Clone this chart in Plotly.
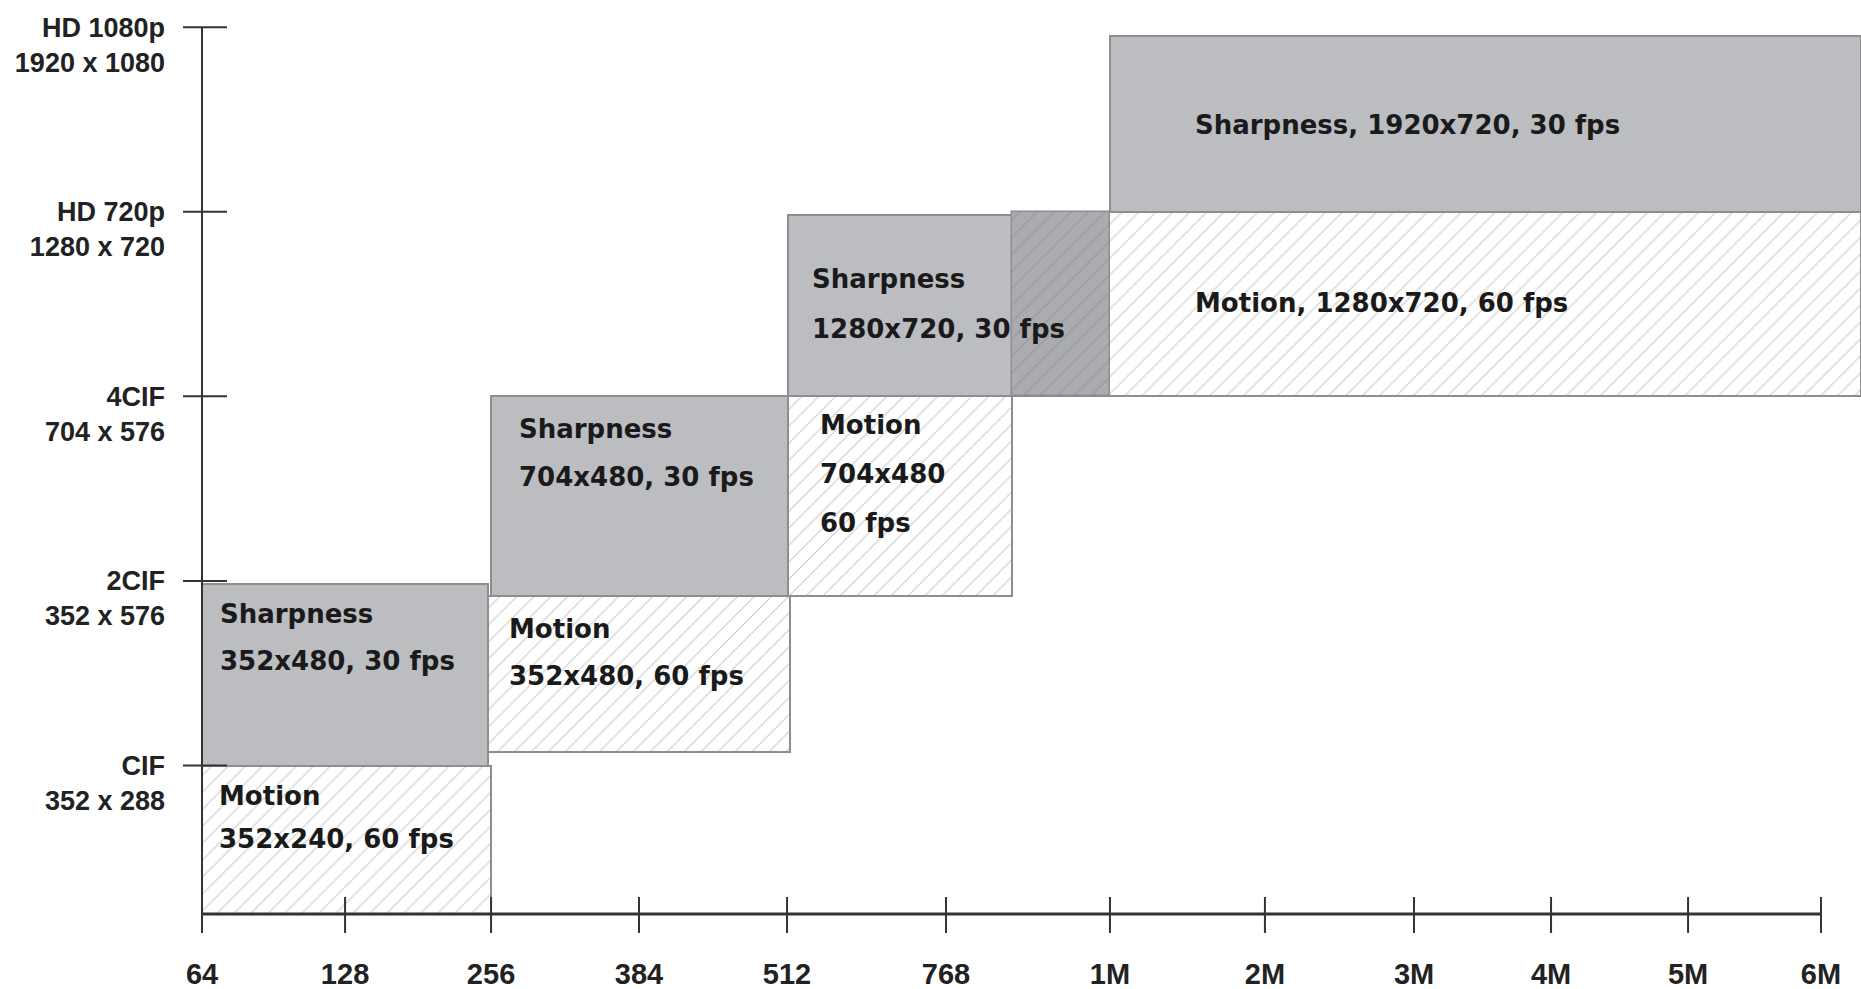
import plotly.graph_objects as go

# ---------------- data ----------------
bitrate_labels = ["64", "128", "256", "384", "512", "768", "1M", "2M", "3M", "4M", "5M", "6M"]
bitrate_pos = [0, 0.972, 1.964, 2.969, 3.975, 5.055, 6.169, 7.222, 8.235, 9.166, 10.097, 11.0]

res_levels = [1, 2, 3, 4, 5]
res_names = ["CIF", "2CIF", "4CIF", "HD 720p", "HD 1080p"]
res_sizes = ["352 x 288", "352 x 576", "704 x 576", "1280 x 720", "1920 x 1080"]

block_kind = ["Motion", "Sharpness", "Motion", "Sharpness", "Motion",
              "Sharpness", "Overlap", "Motion", "Sharpness"]
block_x0 = [0.0, 0.0, 1.943, 1.964, 3.981, 3.981, 5.503, 5.503, 6.169]
block_x1 = [1.964, 1.943, 3.995, 3.981, 5.503, 5.503, 6.169, 11.272, 11.272]
block_y0 = [0.196, 1.0, 1.074, 1.919, 1.919, 3.0, 3.0, 3.0, 4.0]
block_y1 = [1.0, 1.985, 1.919, 3.0, 3.0, 3.983, 4.0, 4.0, 4.953]
block_text = [
    ["Motion", "352x240, 60 fps"],
    ["Sharpness", "352x480, 30 fps"],
    ["Motion", "352x480, 60 fps"],
    ["Sharpness", "704x480, 30 fps"],
    ["Motion", "704x480", "60 fps"],
    ["Sharpness", "1280x720, 30 fps"],
    [],
    ["Motion, 1280x720, 60 fps"],
    ["Sharpness, 1920x720, 30 fps"],
]

# ---------------- label placement (pixels, layout only) ----------------
label_dx = [15, 16, 19, 26, 30, 22, 0, 181, 83]
label_first = [30, 30, 33, 33, 29, 64, 0, 91, 89]
label_gap = [43, 47, 47, 48, 49, 50, 0, 0, 0]

# ---------------- styles ----------------
GRAY = "#bcbdc1"
DARK = "#abacb0"
EDGE = "#8e8e90"
AXIS = "#333333"
TXT = "#1a1a1a"

styles = {
    "Sharpness": dict(color=GRAY, line=dict(color=EDGE, width=2)),
    "Motion": dict(color="white", line=dict(color=EDGE, width=2),
                   pattern=dict(shape="/", fgcolor="#9a9a9a", bgcolor="white",
                                size=12, solidity=0.1)),
    "Overlap": dict(color=DARK, line=dict(color=EDGE, width=1.5),
                    pattern=dict(shape="/", fgcolor="#808184", bgcolor=DARK,
                                 size=12, solidity=0.1)),
}

fig = go.Figure()

for kind in ["Sharpness", "Motion", "Overlap"]:
    idx = [i for i, k in enumerate(block_kind) if k == kind]
    fig.add_trace(go.Bar(
        x=[(block_x0[i] + block_x1[i]) / 2 for i in idx],
        width=[block_x1[i] - block_x0[i] for i in idx],
        base=[block_y0[i] for i in idx],
        y=[block_y1[i] - block_y0[i] for i in idx],
        marker=styles[kind],
        hoverinfo="skip",
        showlegend=False,
    ))

# block labels
for i, lines in enumerate(block_text):
    for j, line in enumerate(lines):
        fig.add_annotation(
            x=block_x0[i], y=block_y1[i], xref="x", yref="y",
            text=line, showarrow=False,
            xanchor="left", yanchor="middle",
            xshift=label_dx[i], yshift=-(label_first[i] + j * label_gap[i]),
            font=dict(family="DejaVu Sans", size=26, color=TXT, weight="bold"),
        )

y_bottom = block_y0[0]
shapes = []
# axis lines
shapes.append(dict(type="line", xref="x", yref="y", x0=bitrate_pos[0], x1=bitrate_pos[-1],
                   y0=y_bottom, y1=y_bottom, line=dict(color=AXIS, width=3)))
shapes.append(dict(type="line", xref="x", yref="y", x0=bitrate_pos[0], x1=bitrate_pos[0],
                   y0=y_bottom, y1=res_levels[-1], line=dict(color=AXIS, width=2)))
# crossing tick marks
for p in bitrate_pos:
    shapes.append(dict(type="line", xref="x", yref="y", x0=p, x1=p,
                       ysizemode="pixel", yanchor=y_bottom, y0=-19, y1=17,
                       line=dict(color=AXIS, width=2)))
for lv in res_levels:
    shapes.append(dict(type="line", xref="x", yref="y", y0=lv, y1=lv,
                       xsizemode="pixel", xanchor=bitrate_pos[0], x0=-19, x1=25,
                       line=dict(color=AXIS, width=2)))

fig.update_layout(
    width=1861, height=989,
    margin=dict(l=180, r=0, t=0, b=49, autoexpand=False),
    paper_bgcolor="white", plot_bgcolor="white",
    barmode="overlay", bargap=0,
    shapes=shapes,
    xaxis=dict(range=[-0.1495, 11.272], tickvals=bitrate_pos, ticktext=bitrate_labels,
               showgrid=False, zeroline=False, showline=False, ticks="",
               automargin=False,
               ticklabelstandoff=14, ticklabeloverflow="allow",
               tickfont=dict(family="Liberation Sans", size=29, color="#222222", weight="bold")),
    yaxis=dict(range=[0.055, 5.147], tickvals=res_levels,
               ticktext=[" <br>" + n + "<br>" + s for n, s in zip(res_names, res_sizes)],
               showgrid=False, zeroline=False, showline=False, ticks="",
               automargin=False,
               ticklabelstandoff=14, ticklabeloverflow="allow",
               tickfont=dict(family="Liberation Sans", size=27, color="#222222", weight="bold")),
)

fig.write_html("out.html", config={"displayModeBar": False},
               post_script="document.body.style.margin='0';")
